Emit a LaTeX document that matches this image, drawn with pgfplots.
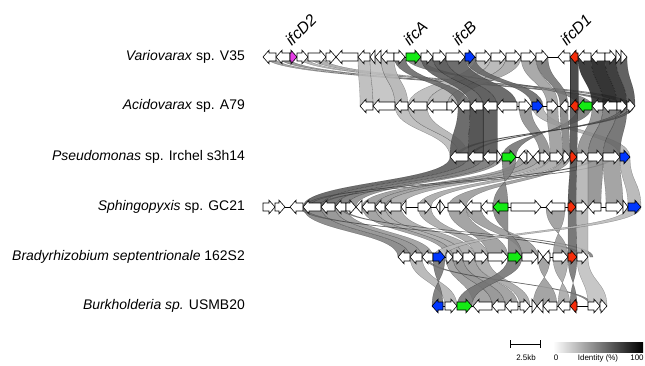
\documentclass[border=0pt]{standalone}
\usepackage{fontspec}
\setmainfont{Liberation Sans}
\usepackage{pgfplots}
\pgfplotsset{compat=1.18}
\definecolor{gG}{RGB}{20,235,20}
\definecolor{gB}{RGB}{0,55,255}
\definecolor{gR}{RGB}{245,45,10}
\definecolor{gM}{RGB}{230,60,230}
% gene arrow: \g[colour]{R|L}{start}{end}, row centre in \rowy
\newcommand\g[4][white]{%
  \pgfmathsetmacro\ga{\rowy-4}%
  \pgfmathsetmacro\gb{\rowy+4}%
  \pgfmathsetmacro\gc{\rowy-6.8}%
  \pgfmathsetmacro\gd{\rowy+6.8}%
  \ifx R#2\pgfmathsetmacro\gh{max(#3,#4-6)}\def\gt{#4}\def\gs{#3}%
  \else\pgfmathsetmacro\gh{min(#4,#3+6)}\def\gt{#3}\def\gs{#4}\fi
  \edef\tmp{\noexpand\addplot[draw=black,line width=0.6pt,fill=#1,line join=miter] coordinates {(\gs,\ga) (\gh,\ga) (\gh,\gc) (\gt,\rowy) (\gh,\gd) (\gh,\gb) (\gs,\gb)} -- cycle;}%
  \tmp}
% link band between two rows
\newcommand\lk[8]{\path[fill=black!#8,fill opacity=0.88,draw=black,draw opacity=0.35,line width=0.3pt]
  (axis cs:#1,#5) .. controls (axis cs:#1,#7) and (axis cs:#3,#7) .. (axis cs:#3,#6)
  -- (axis cs:#4,#6) .. controls (axis cs:#4,#7) and (axis cs:#2,#7) .. (axis cs:#2,#5) -- cycle;}
\newcommand\lkA[5]{\lk{#1}{#2}{#3}{#4}{57}{106}{81.5}{#5}}
\newcommand\lkB[5]{\lk{#1}{#2}{#3}{#4}{106}{157}{131.5}{#5}}
\newcommand\lkC[5]{\lk{#1}{#2}{#3}{#4}{157}{207}{182}{#5}}
\newcommand\lkD[5]{\lk{#1}{#2}{#3}{#4}{207}{257}{232}{#5}}
\newcommand\lkE[5]{\lk{#1}{#2}{#3}{#4}{257}{306}{281.5}{#5}}
\begin{document}
\begin{tikzpicture}
\begin{axis}[width=645bp,height=366bp,scale only axis,
  xmin=0,xmax=645,ymin=0,ymax=366,y dir=reverse,hide axis,clip=false]
\path (axis cs:0,0) (axis cs:645,366);
% ---------- links rows 1-2 ----------
\lkA{266}{274}{608}{612}{40}
\lkA{279}{288}{612}{616}{45}
\lkA{299}{306}{622}{626}{30}
\lkA{310}{322}{628}{632}{35}
\lkA{358}{370}{360}{373}{28}
\lkA{370}{381}{373}{395}{25}
\lkA{381}{394}{395}{408}{30}
\lkA{476}{491}{408}{427}{28}
\lkA{491}{506}{427}{447}{30}
\lkA{506}{521}{447}{458}{35}
\lkA{521}{536}{547}{558}{38}
\lkA{406}{421}{592}{578}{50}
\lkA{536}{548}{560}{568}{55}
\lkA{394}{405}{458}{470}{60}
\lkA{421}{433}{470}{483}{65}
\lkA{433}{446}{483}{497}{70}
\lkA{446}{465}{497}{517}{65}
\lkA{465}{475}{532}{543}{60}
\lkA{570}{578}{570}{578}{80}
\lkA{578}{591}{592}{603}{85}
\lkA{591}{605}{603}{617}{90}
\lkA{605}{616}{617}{627}{85}
\lkA{616}{627}{627}{635}{70}
% ---------- links rows 2-3 ----------
\lkB{395}{408}{450}{460}{28}
\lkB{408}{427}{460}{468}{30}
\lkB{532}{543}{620}{630}{30}
\lkB{547}{558}{550}{563}{40}
\lkB{519}{531}{540}{550}{45}
\lkB{592}{603}{577}{588}{45}
\lkB{603}{617}{588}{603}{55}
\lkB{617}{627}{603}{620}{60}
\lkB{578}{592}{516}{502}{55}
\lkB{560}{568}{563}{570}{50}
\lkB{630}{634}{455}{459}{65}
\lkB{622}{626}{470}{473}{60}
\lkB{458}{470}{450}{468}{65}
\lkB{470}{483}{468}{483}{75}
\lkB{483}{497}{483}{497}{70}
\lkB{570}{578}{570}{577}{70}
% ---------- links rows 3-4 ----------
\lkC{450}{468}{303}{321}{65}
\lkC{468}{483}{321}{335}{60}
\lkC{483}{497}{335}{346}{55}
\lkC{497}{502}{346}{356}{45}
\lkC{519}{527}{362}{375}{40}
\lkC{527}{540}{375}{385}{40}
\lkC{540}{550}{385}{401}{35}
\lkC{550}{563}{418}{431}{35}
\lkC{563}{570}{448}{466}{40}
\lkC{592}{596}{305}{309}{60}
\lkC{610}{613}{318}{321}{55}
\lkC{502}{516}{508}{493}{50}
\lkC{570}{577}{568}{576}{70}
\lkC{577}{588}{576}{588}{30}
\lkC{588}{603}{588}{601}{45}
\lkC{603}{620}{606}{623}{40}
\lkC{620}{630}{628}{641}{30}
% ---------- links rows 4-5 ----------
\lkD{303}{321}{398}{410}{50}
\lkD{321}{335}{410}{422}{45}
\lkD{335}{346}{422}{433}{40}
\lkD{362}{375}{446}{453}{40}
\lkD{375}{385}{453}{463}{35}
\lkD{385}{401}{463}{475}{35}
\lkD{418}{431}{475}{488}{35}
\lkD{448}{466}{488}{508}{40}
\lkD{466}{481}{522}{538}{40}
\lkD{300}{304}{580}{584}{55}
\lkD{340}{343}{590}{593}{50}
\lkD{493}{508}{522}{508}{50}
\lkD{546}{565}{568}{553}{40}
\lkD{568}{576}{568}{577}{60}
\lkD{576}{588}{577}{588}{30}
\lkD{628}{641}{433}{445}{28}
% ---------- links rows 5-6 ----------
\lkE{410}{422}{445}{457}{30}
\lkE{446}{453}{473}{492}{40}
\lkE{453}{463}{492}{505}{45}
\lkE{463}{475}{505}{518}{40}
\lkE{475}{488}{520}{530}{35}
\lkE{425}{428}{590}{593}{50}
\lkE{433}{445}{443}{432}{55}
\lkE{508}{522}{457}{472}{55}
\lkE{538}{550}{557}{533}{40}
\lkE{553}{568}{570}{558}{35}
\lkE{568}{577}{577}{570}{55}
\lkE{577}{588}{588}{607}{25}
% ---------- backbones ----------
\addplot[black,line width=0.6pt] coordinates {(263,57) (627,57)};
\addplot[black,line width=0.6pt] coordinates {(360,106) (635,106)};
\addplot[black,line width=0.6pt] coordinates {(450,157) (630,157)};
\addplot[black,line width=0.6pt] coordinates {(263,207) (641,207)};
\addplot[black,line width=0.6pt] coordinates {(398,257) (588,257)};
\addplot[black,line width=0.6pt] coordinates {(432,306) (607,306)};
% ---------- row 1: Variovarax sp. V35 ----------
\def\rowy{57}
\g{L}{263}{276}\g{L}{276}{290}\g[gM]{R}{290}{297}\g{R}{297}{308}
\g{R}{308}{326}\g{R}{326}{336}\g{L}{336}{358}\g{L}{358}{370}
\g{L}{370}{375}\g{L}{375}{381}\g{L}{381}{394}\g{R}{394}{405}
\g[gG]{R}{406}{421}\g{R}{421}{433}\g{R}{433}{446}\g{R}{446}{465}
\g[gB]{R}{465}{475}\g{R}{476}{491}\g{R}{491}{506}\g{R}{506}{521}
\g{R}{521}{536}\g{R}{536}{548}\g{L}{558}{570}\g[gR]{L}{570}{578}
\g{L}{578}{591}\g{L}{591}{605}\g{R}{605}{616}\g{R}{616}{621}\g{R}{621}{627}
% ---------- row 2: Acidovorax sp. A79 ----------
\def\rowy{106}
\g{L}{360}{373}\g{L}{373}{395}\g{L}{395}{408}\g{L}{408}{427}
\g{L}{427}{447}\g{R}{447}{458}\g{L}{458}{470}\g{L}{470}{483}
\g{L}{483}{497}\g{L}{497}{517}\g{R}{519}{531}\g[gB]{R}{532}{543}
\g{R}{547}{558}\g{L}{560}{568}\g[gR]{L}{570}{578}\g[gG]{L}{578}{592}
\g{L}{592}{603}\g{L}{603}{617}\g{R}{617}{627}\g{R}{627}{635}
% ---------- row 3: Pseudomonas ----------
\def\rowy{157}
\g{L}{450}{468}\g{L}{468}{483}\g{L}{483}{497}\g{R}{497}{502}
\g[gG]{R}{502}{516}\g{L}{519}{527}\g{R}{527}{533}\g{L}{533}{540}
\g{R}{540}{550}\g{R}{550}{563}\g{R}{563}{570}\g[gR]{R}{570}{577}
\g{R}{577}{588}\g{R}{588}{603}\g{R}{603}{620}\g[gB]{R}{620}{630}
% ---------- row 4: Sphingopyxis ----------
\def\rowy{207}
\g{R}{263}{275}\g{R}{275}{285}\g{L}{290}{303}\g{L}{303}{321}
\g{L}{321}{335}\g{L}{335}{346}\g{R}{346}{356}\g{L}{356}{362}
\g{L}{362}{375}\g{L}{375}{385}\g{L}{385}{401}\g{L}{401}{406}
\g{R}{418}{431}\g{L}{436}{440}\g{R}{440}{445}\g{R}{448}{466}
\g{L}{466}{481}\g{L}{481}{493}\g[gG]{L}{493}{508}\g{R}{511}{541}
\g{L}{546}{565}\g[gR]{R}{568}{576}\g{R}{576}{588}\g{L}{588}{601}
\g{R}{606}{623}\g{R}{623}{628}\g[gB]{R}{628}{641}
% ---------- row 5: Bradyrhizobium ----------
\def\rowy{257}
\g{L}{398}{410}\g{L}{410}{422}\g{L}{422}{433}\g[gB]{R}{433}{445}
\g{R}{446}{453}\g{R}{453}{463}\g{R}{463}{475}\g{R}{475}{488}
\g{R}{488}{508}\g[gG]{R}{508}{522}\g{R}{522}{538}\g{R}{538}{543}
\g{L}{543}{550}\g{R}{553}{568}\g[gR]{R}{568}{577}\g{R}{577}{588}
% ---------- row 6: Burkholderia ----------
\def\rowy{306}
\g[gB]{L}{432}{443}\g{R}{445}{457}\g[gG]{R}{457}{472}\g{L}{473}{492}
\g{L}{492}{505}\g{L}{505}{518}\g{R}{520}{530}\g{R}{532}{537}
\g{L}{537}{543}\g{L}{543}{557}\g{L}{558}{570}\g[gR]{L}{570}{577}
\g{R}{588}{600}\g{R}{600}{607}
% ---------- labels ----------
\begin{scope}[every node/.style={anchor=east,inner sep=0pt,font=\fontsize{14}{16}\selectfont}]
\node at (axis cs:245,57) {\textit{Variovarax} sp. V35};
\node at (axis cs:245,106) {\textit{Acidovarax} sp. A79};
\node at (axis cs:245,157) {\textit{Pseudomonas} sp. Irchel s3h14};
\node at (axis cs:245,207) {\textit{Sphingopyxis} sp. GC21};
\node at (axis cs:245,257) {\textit{Bradyrhizobium septentrionale} 162S2};
\node at (axis cs:245,306) {\textit{Burkholderia sp.} USMB20};
\end{scope}
\begin{scope}[every node/.style={rotate=45,anchor=south west,inner sep=0pt,font=\fontsize{16}{18}\selectfont\itshape}]
\node at (axis cs:292,47) {ifcD2};
\node at (axis cs:410,47) {ifcA};
\node at (axis cs:459,47) {ifcB};
\node at (axis cs:567,47) {ifcD1};
\end{scope}
% ---------- legend ----------
\addplot[black,line width=0.8pt] coordinates {(510,344) (540,344)};
\addplot[black,line width=0.8pt] coordinates {(510,340) (510,348)};
\addplot[black,line width=0.8pt] coordinates {(540,340) (540,348)};
\shade[left color=white,right color=black] (axis cs:553,342) rectangle (axis cs:643,352);
\begin{scope}[every node/.style={inner sep=0pt,font=\fontsize{8}{9}\selectfont}]
\node at (axis cs:526,358) {2.5kb};
\node at (axis cs:556,358) {0};
\node at (axis cs:598,358) {Identity (\%)};
\node at (axis cs:637,358) {100};
\end{scope}
\end{axis}
\end{tikzpicture}
\end{document}
